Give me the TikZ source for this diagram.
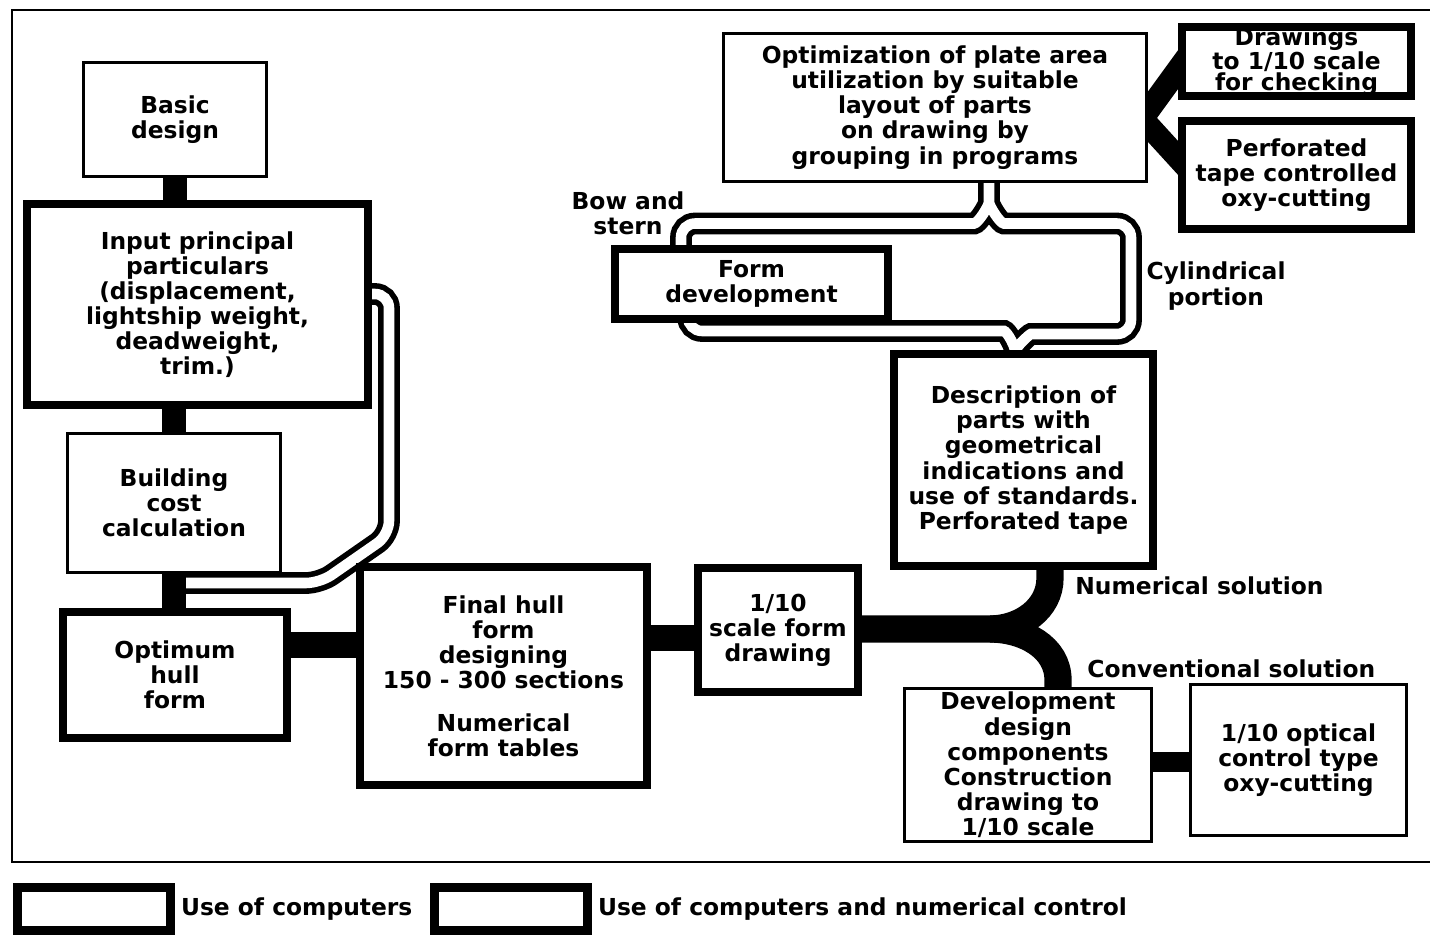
\documentclass[tikz,border=0pt]{standalone}
\usepackage{fontspec}
\setmainfont{DejaVu Sans}
\usetikzlibrary{positioning, backgrounds}

\tikzset{
  thinbox/.style={draw, line width=1.7pt, fill=white, align=center, inner sep=0pt},
  thickbox/.style={draw, line width=5pt, fill=white, align=center, inner sep=0pt},
  lbl/.style={align=center, inner sep=0pt},
  link/.style={draw, line width=#1},
  link/.default=14pt,
  pipe/.style={draw, line width=3.2pt, double=white, double distance=6pt, rounded corners=8pt}
}

\begin{document}
\begin{tikzpicture}[x=0.02cm, y=-0.02cm,
  every node/.append style={font=\bfseries\fontsize{13.3}{14.3}\selectfont}]
  \useasboundingbox (0,0) rectangle (1430,937);

  % left column
  \node[thinbox, minimum width=3.66cm, minimum height=2.28cm] (basic) at (175,119.5) {Basic\\design};
  \node[thickbox, minimum width=6.82cm, minimum height=4.02cm] (input) at (197.5,304.5)
    {Input principal\\particulars\\(displacement,\\lightship weight,\\deadweight,\\trim.)};
  \node[thinbox, minimum width=4.26cm, minimum height=2.78cm] (cost) at (174,503) {Building\\cost\\calculation};
  \node[thickbox, minimum width=4.48cm, minimum height=2.52cm] (optimum) at (175,675) {Optimum\\hull\\form};

  % middle row
  \node[thickbox, minimum width=5.74cm, minimum height=4.36cm] (final) at (503.5,676)
    {Final hull\\form\\designing\\150 - 300 sections\\[10pt]Numerical\\form tables};
  \node[thickbox, minimum width=3.2cm, minimum height=2.48cm] (scale) at (778,630) {1/10\\scale form\\drawing};

  % right part
  \node[thickbox, minimum width=5.46cm, minimum height=1.4cm] (formdev) at (751.5,284) {Form\\development};
  \node[thickbox, minimum width=5.18cm, minimum height=4.24cm] (descr) at (1023.5,460)
    {Description of\\parts with\\geometrical\\indications and\\use of standards.\\Perforated tape};
  \node[thinbox, minimum width=8.46cm, minimum height=2.96cm] (optim) at (935,107.5)
    {Optimization of plate area\\utilization by suitable\\layout of parts\\on drawing by\\grouping in programs};
  \node[thickbox, minimum width=4.58cm, minimum height=1.38cm, font=\bfseries\fontsize{13.3}{12}\selectfont]
    (drawings) at (1296.5,61.5) {Drawings\\to 1/10 scale\\for checking};
  \node[thickbox, minimum width=4.58cm, minimum height=2.16cm] (perfo) at (1296.5,175)
    {Perforated\\tape controlled\\oxy-cutting};
  \node[thinbox, minimum width=4.94cm, minimum height=3.06cm] (devel) at (1028,765)
    {Development\\design\\components\\Construction\\drawing to\\1/10 scale};
  \node[thinbox, minimum width=4.32cm, minimum height=3.02cm] (optical) at (1298.5,760)
    {1/10 optical\\control type\\oxy-cutting};

  % labels
  \node[lbl] (bowstern) at (628,213) {Bow and\\stern};
  \node[lbl] (cylinder) at (1216,286) {Cylindrical\\portion};
  \node[lbl, anchor=west] (numsol) at (1075,586) {Numerical solution};
  \node[lbl, anchor=west] (convsol) at (1087,669) {Conventional solution};

  % legend
  \node[thickbox, minimum width=3.06cm, minimum height=0.86cm] (legA) at (94,909) {};
  \node[right=0pt of legA] (legAtext) {Use of computers};
  \node[thickbox, minimum width=3.06cm, minimum height=0.86cm] (legB) at (511,909) {};
  \node[right=0pt of legB] (legBtext) {Use of computers and numerical control};

  \draw[line width=1.2pt] (1430,10) -- (12,10) -- (12,862) -- (1430,862);

  \begin{scope}[on background layer]
    \draw[pipe] (input.center |- 0,294) -- (389,294) -- (389,535) -- (320,583) -- (cost.center |- 0,583);
    \draw[pipe]
      (optim.center -| 989,0) -- (989,188) to[out=-90,in=0] (960,223.5) -- (681,223.5) -- (formdev.center -| 681,0)
      (optim.center -| 989,0) -- (989,188) to[out=-90,in=180] (1018,223.5) -- (1131,223.5) -- (1131,334)
        -- (1045,334) to[out=180,in=90] (1017,362) -- (descr.center -| 1017,0)
      (formdev.center -| 688,0) -- (688,331) -- (990,331) to[out=0,in=90] (1017,362);

    \draw[link=13.5pt] (basic) -- (basic |- input);
    \draw[link=13.5pt] (cost |- input) -- (cost);
    \draw[link=14pt] (cost) -- (cost |- optimum);
    \draw[link=14.5pt] (optimum.center |- 0,645) -- (final.center |- 0,645);
    \draw[link=14.5pt] (final.center |- 0,638) -- (scale.center |- 0,638);
    \draw[link=15.5pt] (scale.center |- 0,629) -- (990,629) to[out=0,in=-90] (1050,578) -- (descr.center -| 1050,0);
    \draw[link=15.5pt] (990,629) to[out=0,in=90] (1058,680) -- (devel.center -| 1058,0);
    \draw[link=11pt] (devel.center |- 0,762) -- (optical.center |- 0,762);
    \draw[link=13pt] ([xshift=-5.7pt,yshift=-9.8pt]optim.east) -- ([xshift=7pt,yshift=4.7pt]drawings.west);
    \draw[link=13pt] ([xshift=-5.7pt,yshift=-3.7pt]optim.east) -- ([xshift=7pt,yshift=2.3pt]perfo.west);
  \end{scope}
\end{tikzpicture}
\end{document}
